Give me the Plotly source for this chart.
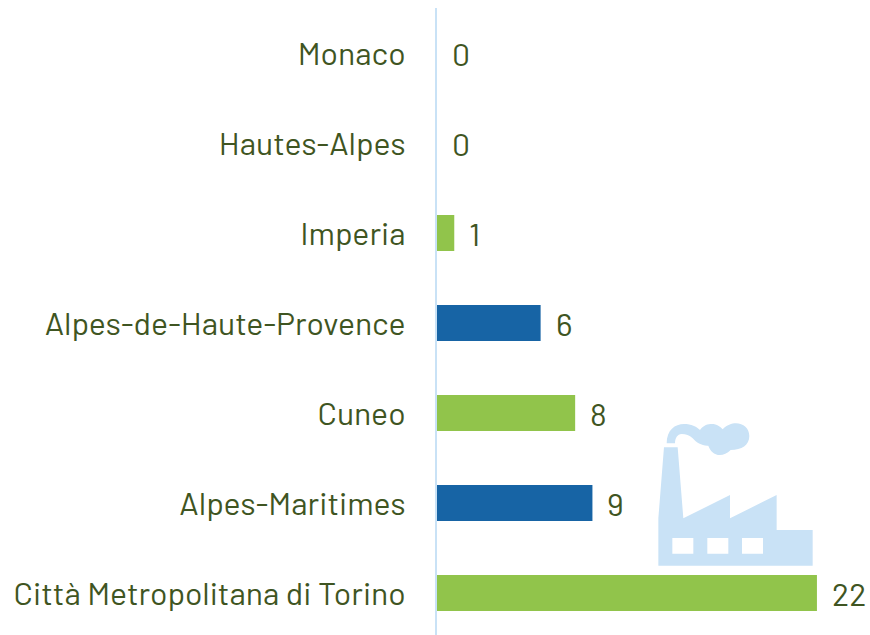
import plotly.graph_objects as go

categories = ["Città Metropolitana di Torino", "Alpes-Maritimes", "Cuneo",
              "Alpes-de-Haute-Provence", "Imperia", "Hautes-Alpes", "Monaco"]
values = [22, 9, 8, 6, 1, 0, 0]
colors = ["#91C44B", "#1764A5", "#91C44B", "#1764A5", "#91C44B", "#1764A5", "#91C44B"]

W, H = 870, 635
ML, MT = 437, 8
TEXT = "#3F5522"
FONT = "Barlow, Roboto, sans-serif"


def pt(zx, zy):
    """Zoomed icon coordinates -> paper coordinates."""
    px, py = 640 + zx / 3, 410 + zy / 3
    return f"{(px - ML) / (W - ML):.4f},{1 - (py - MT) / (H - MT):.4f}"


def path(cmds):
    out = []
    for c in cmds:
        out.append(c[0] + " ".join(pt(*p) for p in c[1:]))
    return " ".join(out) + " Z"


factory = [("M", (55, 467)), ("L", (55, 325)), ("L", (72, 112)), ("L", (113, 112)),
           ("L", (130, 325)), ("L", (270, 255)), ("L", (270, 325)), ("L", (410, 255)),
           ("L", (410, 360)), ("L", (518, 360)), ("L", (518, 467))]
smoke = [("M", (80, 100)), ("C", (80, 60), (105, 42), (132, 42)),
         ("C", (155, 42), (168, 50), (180, 60)), ("C", (190, 45), (205, 42), (215, 42)),
         ("C", (232, 42), (240, 50), (248, 58)), ("C", (260, 45), (275, 40), (288, 40)),
         ("C", (310, 40), (328, 55), (328, 78)), ("C", (328, 105), (305, 120), (272, 120)),
         ("C", (262, 130), (250, 135), (240, 135)), ("C", (222, 135), (210, 122), (205, 107)),
         ("C", (185, 108), (170, 98), (158, 85)), ("C", (148, 75), (138, 72), (125, 72)),
         ("C", (112, 72), (105, 85), (105, 100))]
windows = [[("M", (x, 384)), ("L", (x + 63, 384)), ("L", (x + 63, 431)), ("L", (x, 431))]
           for x in (97, 202, 306)]
icon = " ".join([path(factory), path(smoke)] + [path(w) for w in windows])

fig = go.Figure(go.Bar(x=values, y=categories, orientation="h",
                       marker=dict(color=colors, line_width=0), width=0.4, offset=-0.189))
for v, c in zip(values, categories):
    fig.add_annotation(x=v, y=c, text=str(v), showarrow=False, xanchor="left",
                       xshift=13, yshift=1, font=dict(size=32, color=TEXT, family=FONT))
fig.add_shape(type="path", path=icon, xref="paper", yref="paper",
              fillcolor="#C9E2F6", line_width=0, layer="below")
fig.update_layout(
    width=W, height=H, margin=dict(l=ML, r=0, t=MT, b=0, pad=0),
    paper_bgcolor="white", plot_bgcolor="white", showlegend=False,
    xaxis=dict(range=[0, (W - ML) / 17.27], visible=False, fixedrange=True),
    yaxis=dict(type="category", categoryorder="array", categoryarray=categories,
               range=[-0.456, 6.511], showline=True, linecolor="#C9E2F6", linewidth=2,
               ticks="", showgrid=False, zeroline=False, ticklabelstandoff=23,
               tickfont=dict(size=32, color=TEXT, family=FONT), fixedrange=True),
)
fig.write_html("out.html", config=dict(displayModeBar=False),
               post_script="document.body.style.margin='0';document.documentElement.style.overflow='hidden';")
